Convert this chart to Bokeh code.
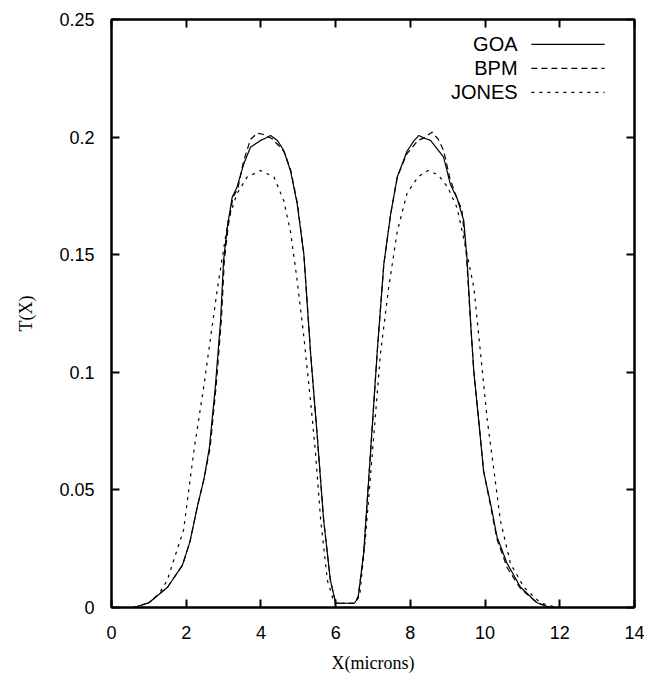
from bokeh.plotting import figure
from bokeh.models import (Range1d, FixedTicker, LinearAxis, Label, Arrow,
                          CustomJSTickFormatter)
from bokeh.embed import file_html
from bokeh.resources import INLINE

# ---------------- data ----------------
goa_x = [0.6, 1.0, 1.5, 1.9, 2.1, 2.3, 2.48, 2.62, 2.78, 2.92, 3.0, 3.1, 3.23,
         3.36, 3.54, 3.72, 3.99, 4.12, 4.26, 4.44, 4.61, 4.79, 4.97, 5.15, 5.33,
         5.51, 5.68, 5.86, 6.0, 6.1, 6.5, 6.6, 6.75, 6.93, 7.11, 7.29, 7.47, 7.65,
         7.91, 8.1, 8.23, 8.38, 8.54, 8.89, 9.07, 9.25, 9.43, 9.52, 9.61, 9.7,
         9.83, 9.96, 10.15, 10.32, 10.59, 10.95, 11.39, 11.75, 11.9]
goa_y = [0.0, 0.002, 0.0086, 0.018, 0.028, 0.043, 0.055, 0.068, 0.094, 0.122,
         0.1475, 0.1617, 0.1744, 0.1787, 0.1886, 0.1957, 0.1986, 0.1995, 0.2007,
         0.1986, 0.1943, 0.1858, 0.1716, 0.150, 0.108, 0.0724, 0.037, 0.0115,
         0.002, 0.0018, 0.0018, 0.004, 0.023, 0.065, 0.108, 0.146, 0.167, 0.183,
         0.194, 0.1985, 0.2007, 0.1995, 0.1986, 0.1915, 0.180, 0.174, 0.1645,
         0.1475, 0.122, 0.100, 0.0795, 0.058, 0.044, 0.030, 0.0187, 0.0086,
         0.002, 0.0, 0.0]

bpm_x = [0.6, 1.0, 1.5, 1.9, 2.1, 2.3, 2.48, 2.64, 2.8, 2.94, 3.02, 3.12, 3.25,
         3.38, 3.54, 3.72, 3.9, 4.05, 4.3, 4.5, 4.63, 4.8, 4.98, 5.15, 5.33, 5.51,
         5.68, 5.86, 6.0, 6.1, 6.5, 6.6, 6.75, 6.93, 7.11, 7.29, 7.47, 7.65, 7.91,
         8.2, 8.4, 8.58, 8.75, 8.89, 9.05, 9.2, 9.38, 9.5, 9.6, 9.7, 9.83, 9.96,
         10.15, 10.32, 10.59, 10.95, 11.39, 11.75, 11.9]
bpm_y = [0.0, 0.002, 0.0086, 0.018, 0.028, 0.043, 0.055, 0.068, 0.094, 0.122,
         0.1475, 0.1617, 0.1744, 0.178, 0.190, 0.199, 0.2017, 0.2012, 0.1993,
         0.196, 0.1935, 0.1858, 0.1716, 0.150, 0.108, 0.0724, 0.037, 0.0115,
         0.002, 0.0018, 0.0018, 0.004, 0.023, 0.065, 0.108, 0.146, 0.167, 0.183,
         0.193, 0.1985, 0.200, 0.2021, 0.199, 0.1943, 0.183, 0.176, 0.169, 0.150,
         0.124, 0.100, 0.0795, 0.058, 0.043, 0.029, 0.017, 0.0080, 0.002, 0.0,
         0.0]

jones_x = [0.6, 1.0, 1.27, 1.49, 1.93, 2.2, 2.47, 2.83, 3.12, 3.36, 3.63, 3.99,
           4.35, 4.61, 4.79, 4.97, 5.15, 5.33, 5.46, 5.6, 5.78, 5.96, 6.1, 6.5,
           6.65, 6.8, 6.98, 7.2, 7.42, 7.65, 7.91, 8.2, 8.47, 8.74, 9.0, 9.25,
           9.52, 9.7, 9.88, 10.06, 10.24, 10.41, 10.68, 11.04, 11.48, 11.9]
jones_y = [0.0, 0.002, 0.0058, 0.0115, 0.033, 0.066, 0.094, 0.135, 0.1645, 0.176,
           0.183, 0.1858, 0.183, 0.173, 0.160, 0.139, 0.115, 0.0875, 0.066, 0.037,
           0.0115, 0.002, 0.0018, 0.0018, 0.006, 0.030, 0.065, 0.108, 0.136,
           0.160, 0.176, 0.183, 0.1858, 0.184, 0.1787, 0.170, 0.150, 0.136, 0.108,
           0.0795, 0.058, 0.037, 0.0187, 0.0086, 0.002, 0.0]

x_ticks = [0, 2, 4, 6, 8, 10, 12, 14]
y_ticks = [0, 0.05, 0.1, 0.15, 0.2, 0.25]
y_tick_labels = ["0", "0.05", "0.1", "0.15", "0.2", "0.25"]
series_names = ["GOA", "BPM", "JONES"]
series_dash = ["solid", "6 4", "3 5"]

# ---------------- figure ----------------
p = figure(width=661, height=681, output_backend="svg", toolbar_location=None,
           x_range=Range1d(0, 14), y_range=Range1d(0, 0.25),
           min_border_left=111, min_border_right=27, min_border_top=19,
           min_border_bottom=74)
p.grid.visible = False
p.background_fill_color = "white"
p.border_fill_color = "white"
p.outline_line_color = "black"
p.outline_line_width = 2

tick_font = "Liberation Sans"
for ax in p.xaxis:
    ax.ticker = FixedTicker(ticks=x_ticks)
    ax.axis_label = "X(microns)"
for ax in p.yaxis:
    ax.ticker = FixedTicker(ticks=y_ticks)
    ax.major_label_overrides = {t: s for t, s in zip(y_ticks, y_tick_labels)}
    ax.axis_label = "T(X)"

for ax in list(p.xaxis) + list(p.yaxis):
    ax.major_tick_in = 8
    ax.major_tick_out = 0
    ax.minor_tick_line_color = None
    ax.major_tick_line_color = "black"
    ax.major_tick_line_width = 2
    ax.axis_line_color = "black"
    ax.axis_line_width = 2
    ax.major_label_text_font = tick_font
    ax.major_label_text_font_size = "18px"
    ax.major_label_text_color = "black"
    ax.axis_label_text_font = "Liberation Serif"
    ax.axis_label_text_font_style = "normal"
    ax.axis_label_text_font_size = "18px"
    ax.axis_label_text_color = "black"

p.yaxis.major_label_standoff = 17
p.yaxis.axis_label_standoff = 20
p.xaxis.major_label_standoff = 18
p.xaxis.axis_label_standoff = 11

# mirror ticks on top and right (no labels)
blank = CustomJSTickFormatter(code="return '';")
top_ax = LinearAxis(ticker=FixedTicker(ticks=x_ticks), formatter=blank,
                    major_tick_in=8, major_tick_out=0,
                    minor_tick_line_color=None, major_label_standoff=0,
                    major_tick_line_width=2, axis_line_width=2)
right_ax = LinearAxis(ticker=FixedTicker(ticks=y_ticks), formatter=blank,
                      major_tick_in=8, major_tick_out=0,
                      minor_tick_line_color=None, major_label_standoff=0,
                      major_tick_line_width=2, axis_line_width=2)
p.add_layout(top_ax, "above")
p.add_layout(right_ax, "right")

# ---------------- curves ----------------
xs = [goa_x, bpm_x, jones_x]
ys = [goa_y, bpm_y, jones_y]
for x, y, dash in zip(xs, ys, series_dash):
    p.line(x, y, line_color="black", line_width=1.2, line_dash=dash)

# ---------------- legend (label left, sample right) ----------------
leg_text_x = 10.87
leg_line_x0, leg_line_x1 = 11.24, 13.2
leg_rows = [0.2394, 0.2292, 0.2190]
for name, dash, yy in zip(series_names, series_dash, leg_rows):
    p.add_layout(Label(x=leg_text_x, y=yy, text=name, text_align="right",
                       text_baseline="middle", text_font=tick_font,
                       text_font_size="20px", text_color="black"))
    p.add_layout(Arrow(x_start=leg_line_x0, y_start=yy, x_end=leg_line_x1,
                       y_end=yy, start=None, end=None, line_color="black",
                       line_width=1.2, line_dash=dash))

open("out.html", "w").write(file_html(p, INLINE))
